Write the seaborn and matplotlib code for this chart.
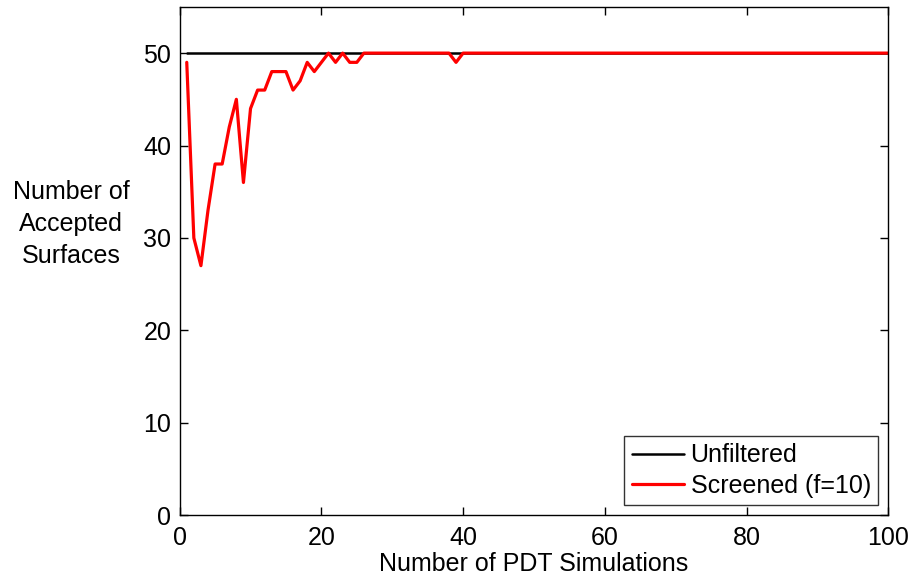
import numpy as np
import pandas as pd
import matplotlib
matplotlib.use("Agg")
import matplotlib.pyplot as plt
import seaborn as sns

# data
n_sim = list(range(1, 101))
unfiltered = [50] * 100
screened = [49, 30, 27, 33, 38, 38, 42, 45, 36, 44,
            46, 46, 48, 48, 48, 46, 47, 49, 48, 49,
            50, 49, 50, 49, 49, 50, 50, 50, 50, 50,
            50, 50, 50, 50, 50, 50, 50, 50, 49, 50] + [50] * 60

sns.set_style("white")
plt.rcParams["font.family"] = ["Liberation Sans", "DejaVu Sans"]
plt.rcParams["xtick.direction"] = "in"
plt.rcParams["ytick.direction"] = "in"
plt.rcParams["text.color"] = "black"
plt.rcParams["xtick.color"] = "black"
plt.rcParams["ytick.color"] = "black"
plt.rcParams["axes.labelcolor"] = "black"

fig = plt.figure(figsize=(9.12, 5.75), dpi=100)
ax = fig.add_axes([0.197, 0.104, 0.777, 0.884])

sns.lineplot(x=n_sim, y=unfiltered, color="black", lw=1.8, ax=ax, label="Unfiltered")
sns.lineplot(x=n_sim, y=screened, color="red", lw=2.3, ax=ax, label="Screened (f=10)")

ax.set_xlim(0, 100)
ax.set_ylim(0, 55)
ax.set_xticks(range(0, 101, 20))
ax.set_yticks(range(0, 51, 10))
ax.tick_params(labelsize=18, length=6, width=1, top=True, right=True,
               bottom=True, left=True)
ax.tick_params(axis="x", pad=8)
ax.tick_params(axis="y", pad=6)
for s in ax.spines.values():
    s.set_linewidth(1.0)
    s.set_color("black")

ax.set_xlabel("Number of PDT Simulations", fontsize=18, labelpad=1)
ax.set_ylabel("Number of\nAccepted\nSurfaces", fontsize=18, rotation=0,
              ha="center", va="center", labelpad=0, linespacing=1.4)
ax.yaxis.set_label_coords(-0.153, 0.573)

leg = ax.legend(loc="lower right", fontsize=18, frameon=True, fancybox=False,
                edgecolor="black", handlelength=2.1, borderaxespad=0.4,
                borderpad=0.3, labelspacing=0.25, handletextpad=0.25)
leg.get_frame().set_linewidth(1.0)

fig.savefig("out.png", dpi=100)
